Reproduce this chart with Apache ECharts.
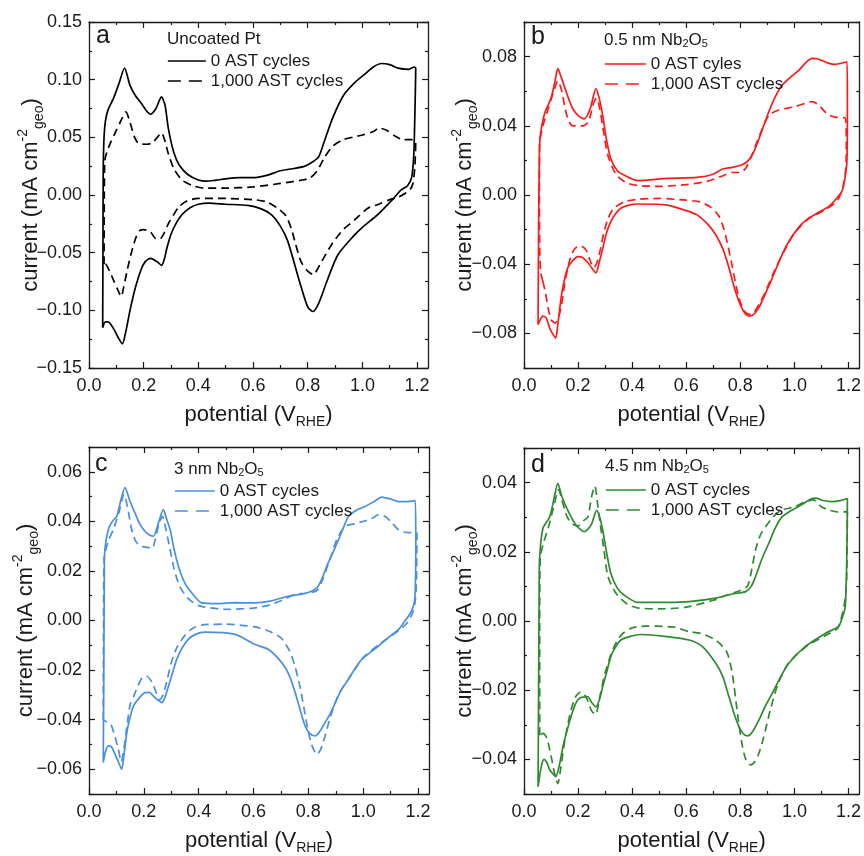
<!DOCTYPE html>
<html><head><meta charset="utf-8">
<script src="https://cdn.jsdelivr.net/npm/echarts@6/dist/echarts.min.js"></script>
<style>html,body{margin:0;padding:0;background:#fff}#c{width:864px;height:856px}</style>
</head><body><div id="c"></div>
<script>
// ---------- data ----------
const xMajor = [0, 0.2, 0.4, 0.6, 0.8, 1.0, 1.2];
const xMinor = [0.1, 0.3, 0.5, 0.7, 0.9, 1.1];
const X_MAX = 1.24;

const aYMajor = [-0.15, -0.10, -0.05, 0, 0.05, 0.10, 0.15];
const aYMinor = [-0.125, -0.075, -0.025, 0.025, 0.075, 0.125];
const bYMajor = [-0.08, -0.04, 0, 0.04, 0.08];
const bYMinor = [-0.10, -0.06, -0.02, 0.02, 0.06, 0.10];
const cYMajor = [-0.06, -0.04, -0.02, 0, 0.02, 0.04, 0.06];
const cYMinor = [-0.07, -0.05, -0.03, -0.01, 0.01, 0.03, 0.05, 0.07];
const dYMajor = [-0.04, -0.02, 0, 0.02, 0.04];
const dYMinor = [-0.05, -0.03, -0.01, 0.01, 0.03, 0.05];

const panelTitles = ['Uncoated Pt', '0.5 nm Nb{s|2}O{s|5}', '3 nm Nb{s|2}O{s|5}', '4.5 nm Nb{s|2}O{s|5}'];
const panelLetters = ['a', 'b', 'c', 'd'];
const freshLabels = ['0 AST cycles', '0 AST cyles', '0 AST cycles', '0 AST cycles'];
const agedLabel = '1,000 AST cycles';

const aFresh = [[0.05,-0.115],[0.051,-0.05],[0.052,0.02],[0.055,0.05],[0.06,0.064],[0.07,0.074],[0.09,0.084],[0.11,0.097],[0.13,0.110],[0.15,0.095],[0.17,0.086],[0.19,0.080],[0.21,0.073],[0.225,0.070],[0.245,0.075],[0.265,0.085],[0.278,0.078],[0.29,0.058],[0.31,0.037],[0.33,0.026],[0.36,0.018],[0.40,0.013],[0.43,0.012],[0.50,0.014],[0.55,0.015],[0.60,0.015],[0.65,0.017],[0.70,0.021],[0.75,0.023],[0.79,0.025],[0.82,0.029],[0.84,0.033],[0.86,0.046],[0.89,0.066],[0.93,0.086],[0.97,0.097],[1.01,0.105],[1.04,0.111],[1.07,0.114],[1.10,0.113],[1.13,0.110],[1.17,0.109],[1.19,0.111],[1.195,0.110],
  [1.192,0.07],[1.188,0.035],[1.18,0.015],[1.165,0.008],[1.14,0.004],[1.11,-0.004],[1.056,-0.017],[1.00,-0.028],[0.97,-0.035],[0.91,-0.052],[0.87,-0.075],[0.84,-0.094],[0.82,-0.101],[0.80,-0.097],[0.77,-0.075],[0.727,-0.040],[0.70,-0.027],[0.667,-0.017],[0.63,-0.012],[0.58,-0.009],[0.50,-0.008],[0.44,-0.007],[0.40,-0.008],[0.37,-0.011],[0.34,-0.017],[0.32,-0.024],[0.30,-0.034],[0.285,-0.046],[0.275,-0.056],[0.265,-0.061],[0.25,-0.058],[0.225,-0.055],[0.205,-0.058],[0.19,-0.065],[0.17,-0.080],[0.15,-0.100],[0.135,-0.118],[0.122,-0.129],[0.11,-0.125],[0.09,-0.116],[0.07,-0.110],[0.06,-0.110],[0.05,-0.115]];
const aAged = [[0.055,-0.060],[0.056,0.0],[0.058,0.030],[0.065,0.037],[0.08,0.046],[0.10,0.056],[0.12,0.066],[0.135,0.072],[0.15,0.063],[0.165,0.051],[0.18,0.045],[0.21,0.044],[0.23,0.045],[0.25,0.050],[0.265,0.054],[0.275,0.049],[0.29,0.036],[0.31,0.023],[0.34,0.013],[0.38,0.008],[0.42,0.006],[0.50,0.006],[0.60,0.007],[0.70,0.010],[0.78,0.013],[0.81,0.015],[0.835,0.021],[0.86,0.032],[0.89,0.042],[0.93,0.048],[1.00,0.052],[1.04,0.055],[1.06,0.058],[1.09,0.056],[1.12,0.051],[1.15,0.048],[1.18,0.048],[1.195,0.046],
  [1.192,0.025],[1.185,0.010],[1.175,0.005],[1.16,0.002],[1.13,-0.002],[1.10,-0.004],[1.06,-0.008],[1.02,-0.0115],[0.97,-0.022],[0.93,-0.030],[0.89,-0.042],[0.85,-0.058],[0.82,-0.069],[0.80,-0.066],[0.776,-0.058],[0.755,-0.042],[0.74,-0.029],[0.72,-0.018],[0.69,-0.0115],[0.65,-0.006],[0.60,-0.004],[0.50,-0.003],[0.40,-0.003],[0.36,-0.005],[0.33,-0.010],[0.31,-0.017],[0.29,-0.025],[0.275,-0.033],[0.26,-0.038],[0.245,-0.038],[0.225,-0.032],[0.20,-0.030],[0.185,-0.031],[0.17,-0.038],[0.155,-0.050],[0.14,-0.065],[0.125,-0.082],[0.118,-0.088],[0.105,-0.082],[0.09,-0.074],[0.075,-0.066],[0.06,-0.060],[0.055,-0.060]];

const bFresh = [[0.052,-0.075],[0.054,-0.02],[0.057,0.025],[0.061,0.035],[0.076,0.047],[0.10,0.056],[0.115,0.066],[0.125,0.073],[0.14,0.067],[0.162,0.057],[0.18,0.050],[0.20,0.046],[0.223,0.044],[0.245,0.050],[0.266,0.0615],[0.278,0.056],[0.291,0.046],[0.305,0.032],[0.321,0.021],[0.345,0.014],[0.37,0.0115],[0.42,0.0083],[0.53,0.0096],[0.64,0.0102],[0.70,0.012],[0.734,0.015],[0.77,0.016],[0.807,0.0175],[0.83,0.020],[0.85,0.025],[0.875,0.035],[0.905,0.048],[0.93,0.057],[0.954,0.0634],[0.985,0.068],[1.016,0.072],[1.045,0.077],[1.065,0.079],[1.09,0.0785],[1.12,0.0765],[1.145,0.0755],[1.17,0.076],[1.195,0.077],
  [1.196,0.05],[1.194,0.019],[1.185,0.008],[1.175,0.002],[1.15,-0.003],[1.126,-0.0067],[1.09,-0.010],[1.053,-0.0134],[1.02,-0.018],[0.979,-0.027],[0.95,-0.036],[0.918,-0.048],[0.89,-0.058],[0.869,-0.065],[0.85,-0.069],[0.832,-0.070],[0.815,-0.068],[0.795,-0.0615],[0.775,-0.052],[0.758,-0.042],[0.735,-0.031],[0.709,-0.023],[0.68,-0.017],[0.64,-0.0115],[0.60,-0.009],[0.53,-0.0058],[0.42,-0.0052],[0.385,-0.006],[0.358,-0.0077],[0.338,-0.011],[0.321,-0.0154],[0.305,-0.022],[0.291,-0.031],[0.278,-0.039],[0.266,-0.045],[0.25,-0.042],[0.236,-0.039],[0.215,-0.036],[0.199,-0.0356],[0.18,-0.038],[0.162,-0.042],[0.148,-0.050],[0.137,-0.0596],[0.125,-0.075],[0.117,-0.0827],[0.105,-0.080],[0.095,-0.077],[0.082,-0.071],[0.07,-0.070],[0.06,-0.072],[0.052,-0.075]];
const bAged = [[0.07,-0.050],[0.062,-0.045],[0.058,-0.030],[0.057,0.0],[0.058,0.030],[0.07,0.040],[0.09,0.050],[0.11,0.060],[0.125,0.066],[0.14,0.060],[0.152,0.050],[0.165,0.043],[0.18,0.040],[0.22,0.040],[0.24,0.043],[0.255,0.052],[0.268,0.056],[0.28,0.050],[0.295,0.036],[0.31,0.023],[0.34,0.012],[0.38,0.007],[0.42,0.0055],[0.50,0.005],[0.60,0.006],[0.68,0.008],[0.734,0.011],[0.77,0.013],[0.80,0.013],[0.82,0.0155],[0.84,0.022],[0.87,0.034],[0.905,0.046],[0.94,0.049],[1.0,0.051],[1.04,0.053],[1.065,0.054],[1.09,0.052],[1.12,0.047],[1.15,0.045],[1.188,0.0446],
  [1.192,0.03],[1.19,0.015],[1.18,0.005],[1.16,-0.003],[1.12,-0.008],[1.05,-0.014],[1.0,-0.022],[0.96,-0.033],[0.92,-0.046],[0.89,-0.057],[0.87,-0.063],[0.85,-0.068],[0.835,-0.069],[0.82,-0.068],[0.80,-0.062],[0.785,-0.053],[0.77,-0.041],[0.755,-0.030],[0.74,-0.020],[0.72,-0.012],[0.69,-0.007],[0.65,-0.004],[0.60,-0.003],[0.50,-0.002],[0.42,-0.0025],[0.37,-0.004],[0.33,-0.008],[0.31,-0.014],[0.295,-0.022],[0.283,-0.031],[0.27,-0.039],[0.258,-0.042],[0.245,-0.038],[0.23,-0.032],[0.21,-0.0295],[0.195,-0.030],[0.18,-0.033],[0.165,-0.040],[0.15,-0.052],[0.137,-0.065],[0.125,-0.072],[0.115,-0.074],[0.10,-0.072],[0.09,-0.066],[0.08,-0.057],[0.07,-0.050]];

const cFresh = [[0.052,-0.0573],[0.054,-0.02],[0.056,0.02],[0.058,0.0286],[0.07,0.0366],[0.085,0.040],[0.101,0.042],[0.115,0.048],[0.131,0.0536],[0.15,0.048],[0.168,0.0433],[0.185,0.039],[0.204,0.036],[0.22,0.0345],[0.235,0.034],[0.255,0.040],[0.271,0.0447],[0.283,0.041],[0.296,0.0366],[0.31,0.029],[0.326,0.0219],[0.35,0.015],[0.375,0.0111],[0.411,0.0071],[0.47,0.0068],[0.533,0.0072],[0.606,0.0071],[0.66,0.0078],[0.727,0.0098],[0.788,0.0109],[0.831,0.0132],[0.85,0.017],[0.867,0.0219],[0.89,0.0275],[0.91,0.0326],[0.93,0.038],[0.946,0.042],[0.975,0.0445],[1.007,0.046],[1.04,0.048],[1.068,0.0498],[1.10,0.049],[1.129,0.048],[1.16,0.048],[1.19,0.0484],
  [1.192,0.03],[1.188,0.0085],[1.177,0.004],[1.165,0.0017],[1.147,-0.001],[1.129,-0.0036],[1.09,-0.007],[1.056,-0.0103],[0.995,-0.0157],[0.97,-0.0195],[0.946,-0.0237],[0.92,-0.028],[0.898,-0.0331],[0.878,-0.038],[0.861,-0.0412],[0.84,-0.045],[0.825,-0.0466],[0.805,-0.0455],[0.788,-0.0425],[0.77,-0.036],[0.752,-0.0291],[0.73,-0.022],[0.703,-0.017],[0.655,-0.0117],[0.606,-0.0097],[0.533,-0.0056],[0.423,-0.0047],[0.39,-0.0055],[0.362,-0.0076],[0.34,-0.011],[0.32,-0.0157],[0.305,-0.021],[0.29,-0.0264],[0.277,-0.031],[0.265,-0.0331],[0.25,-0.032],[0.235,-0.0305],[0.22,-0.029],[0.204,-0.0291],[0.185,-0.031],[0.162,-0.0345],[0.15,-0.039],[0.138,-0.0452],[0.128,-0.054],[0.119,-0.060],[0.107,-0.057],[0.095,-0.054],[0.082,-0.051],[0.07,-0.0506],[0.06,-0.053],[0.052,-0.0573]];
const cAged = [[0.052,-0.040],[0.053,0.0],[0.055,0.025],[0.07,0.032],[0.09,0.037],[0.11,0.044],[0.128,0.051],[0.14,0.046],[0.155,0.037],[0.17,0.032],[0.19,0.030],[0.215,0.0295],[0.23,0.029],[0.24,0.032],[0.255,0.039],[0.268,0.042],[0.28,0.037],[0.295,0.029],[0.31,0.021],[0.33,0.014],[0.36,0.009],[0.40,0.006],[0.45,0.005],[0.50,0.0045],[0.60,0.005],[0.65,0.006],[0.70,0.008],[0.75,0.0105],[0.79,0.011],[0.83,0.012],[0.85,0.016],[0.87,0.022],[0.886,0.027],[0.905,0.033],[0.934,0.038],[0.97,0.039],[1.0,0.040],[1.03,0.041],[1.056,0.0427],[1.08,0.042],[1.10,0.040],[1.13,0.0365],[1.16,0.0355],[1.196,0.0353],
  [1.194,0.015],[1.19,0.008],[1.18,0.003],[1.16,-0.001],[1.13,-0.004],[1.06,-0.0095],[1.0,-0.015],[0.95,-0.023],[0.91,-0.030],[0.88,-0.039],[0.86,-0.047],[0.845,-0.052],[0.831,-0.054],[0.815,-0.051],[0.80,-0.045],[0.785,-0.036],[0.77,-0.027],[0.75,-0.018],[0.73,-0.012],[0.70,-0.007],[0.65,-0.004],[0.60,-0.0025],[0.50,-0.0015],[0.42,-0.0017],[0.38,-0.003],[0.35,-0.006],[0.32,-0.011],[0.30,-0.017],[0.285,-0.024],[0.27,-0.030],[0.258,-0.032],[0.245,-0.029],[0.23,-0.025],[0.21,-0.0225],[0.195,-0.023],[0.18,-0.026],[0.165,-0.030],[0.15,-0.034],[0.138,-0.043],[0.127,-0.052],[0.118,-0.057],[0.107,-0.052],[0.095,-0.047],[0.08,-0.042],[0.065,-0.041],[0.052,-0.040]];

const dFresh = [[0.052,-0.0479],[0.054,-0.02],[0.056,0.01],[0.058,0.0186],[0.07,0.0268],[0.095,0.0301],[0.11,0.035],[0.125,0.0398],[0.14,0.036],[0.162,0.032],[0.193,0.0277],[0.223,0.0258],[0.248,0.0277],[0.269,0.032],[0.28,0.030],[0.291,0.0263],[0.305,0.020],[0.321,0.0138],[0.345,0.0095],[0.37,0.0075],[0.42,0.0054],[0.53,0.0054],[0.611,0.0056],[0.709,0.0066],[0.77,0.0078],[0.82,0.0085],[0.84,0.010],[0.856,0.0128],[0.88,0.018],[0.905,0.0224],[0.93,0.027],[0.954,0.0301],[0.98,0.0315],[1.004,0.0326],[1.035,0.034],[1.065,0.0354],[1.08,0.0355],[1.102,0.0349],[1.138,0.0345],[1.17,0.0348],[1.196,0.0354],
  [1.194,0.02],[1.188,0.0041],[1.175,0.0005],[1.163,-0.0016],[1.114,-0.0036],[1.04,-0.0074],[0.979,-0.0122],[0.95,-0.016],[0.918,-0.0209],[0.89,-0.025],[0.869,-0.0286],[0.845,-0.032],[0.826,-0.0332],[0.81,-0.0325],[0.795,-0.0305],[0.778,-0.027],[0.758,-0.0219],[0.735,-0.016],[0.709,-0.0122],[0.66,-0.0074],[0.611,-0.0055],[0.53,-0.0045],[0.432,-0.0039],[0.39,-0.0045],[0.358,-0.0055],[0.335,-0.008],[0.321,-0.0103],[0.305,-0.015],[0.291,-0.019],[0.278,-0.023],[0.266,-0.0248],[0.25,-0.0235],[0.236,-0.0219],[0.22,-0.022],[0.205,-0.0223],[0.19,-0.024],[0.174,-0.0276],[0.158,-0.032],[0.144,-0.0363],[0.13,-0.042],[0.117,-0.045],[0.105,-0.044],[0.095,-0.043],[0.085,-0.041],[0.074,-0.040],[0.064,-0.042],[0.052,-0.0479]];
const dAged = [[0.058,-0.033],[0.058,0.0],[0.06,0.018],[0.07,0.022],[0.09,0.027],[0.11,0.033],[0.128,0.038],[0.14,0.035],[0.16,0.030],[0.18,0.028],[0.20,0.0275],[0.22,0.029],[0.236,0.030],[0.25,0.036],[0.262,0.039],[0.272,0.034],[0.282,0.028],[0.295,0.021],[0.31,0.013],[0.34,0.008],[0.38,0.005],[0.42,0.0038],[0.50,0.0035],[0.60,0.004],[0.70,0.006],[0.75,0.0075],[0.80,0.0088],[0.826,0.010],[0.84,0.014],[0.856,0.0205],[0.875,0.025],[0.893,0.0272],[0.92,0.030],[0.95,0.032],[1.0,0.033],[1.04,0.0345],[1.07,0.035],[1.10,0.033],[1.13,0.032],[1.16,0.0315],[1.196,0.0316],
  [1.194,0.015],[1.19,0.008],[1.18,0.003],[1.16,-0.002],[1.12,-0.004],[1.05,-0.007],[0.98,-0.012],[0.94,-0.018],[0.91,-0.026],[0.885,-0.034],[0.865,-0.039],[0.85,-0.041],[0.838,-0.0416],[0.82,-0.040],[0.805,-0.035],[0.79,-0.027],[0.77,-0.0151],[0.75,-0.009],[0.709,-0.0055],[0.65,-0.0035],[0.611,-0.0031],[0.55,-0.0017],[0.45,-0.0015],[0.40,-0.002],[0.36,-0.004],[0.33,-0.008],[0.30,-0.015],[0.28,-0.022],[0.265,-0.027],[0.25,-0.026],[0.23,-0.022],[0.21,-0.0205],[0.19,-0.022],[0.17,-0.027],[0.15,-0.035],[0.135,-0.043],[0.125,-0.047],[0.113,-0.044],[0.10,-0.039],[0.085,-0.034],[0.07,-0.0325],[0.058,-0.033]];

// ---------- layout / style ----------
const FONT = '"Liberation Sans", Arial, Helvetica, sans-serif';
const INK = '#1a1a1a';
const panels = [
  {grid:{left:89, top:22, width:339, height:346}, y:[-0.15,0.15], maj:aYMajor, min:aYMinor, color:'#000000', fresh:aFresh, aged:aAged, yGap:43,
   title:{x:167,y:31}, legend:{x:167,y:51,w:38}, letter:{x:96,y:24}},
  {grid:{left:524, top:22, width:337, height:346}, y:[-0.10,0.10], maj:bYMajor, min:bYMinor, color:'#ff1a1a', fresh:bFresh, aged:bAged, yGap:44,
   title:{x:604,y:32}, legend:{x:604,y:54,w:41}, letter:{x:531,y:25}},
  {grid:{left:89, top:447, width:340, height:349}, y:[-0.07,0.07], maj:cYMajor, min:cYMinor, color:'#4a8fe0', fresh:cFresh, aged:cAged, yGap:48,
   title:{x:174,y:461}, legend:{x:174,y:481,w:40}, letter:{x:95,y:452}},
  {grid:{left:524, top:448, width:337, height:348}, y:[-0.05,0.05], maj:dYMajor, min:dYMinor, color:'#2f8a2f', fresh:dFresh, aged:dAged, yGap:44,
   title:{x:605,y:458}, legend:{x:605,y:480,w:40}, letter:{x:531,y:453}}
];

function fmtY(v){ return (v < -1e-9 ? '\u2212' : '') + Math.abs(v).toFixed(2); }
function fmtX(v){ return v.toFixed(1); }

const tickLine = {color: INK, width: 1.2};
const grids = [], xAxes = [], yAxes = [], series = [], legends = [], graphics = [];
const LABELS = {};

panels.forEach((p, i) => {
  grids.push(Object.assign({containLabel:false}, p.grid));
  const xb = {gridIndex:i, type:'value', min:0, max:X_MAX, splitLine:{show:false}};
  const xLine = {show:true, onZero:false, lineStyle:{color:INK, width:1.3}};
  const noLine = {show:false, onZero:false};
  xAxes.push(Object.assign({}, xb, {position:'bottom', axisLine:xLine,
    axisTick:{inside:true, length:6, customValues:xMajor, lineStyle:tickLine},
    axisLabel:{customValues:xMajor, formatter:fmtX, fontSize:18, color:INK, margin:9, fontFamily:FONT},
    name:'{n|potential (V}{sub|RHE}{n|)}', nameLocation:'middle', nameGap:33, nameMoveOverlap:false,
    nameTextStyle:{fontFamily:FONT, color:INK, rich:{n:{fontSize:22, lineHeight:28, fontFamily:FONT, color:INK}, sub:{fontSize:14, lineHeight:14, verticalAlign:'bottom', fontFamily:FONT, color:INK}}}}));
  xAxes.push(Object.assign({}, xb, {position:'bottom', axisLine:noLine, axisTick:{inside:true, length:3, customValues:xMinor, lineStyle:tickLine}, axisLabel:{show:false}}));
  xAxes.push(Object.assign({}, xb, {position:'top', axisLine:xLine, axisTick:{inside:true, length:6, customValues:xMajor, lineStyle:tickLine}, axisLabel:{show:false}}));
  xAxes.push(Object.assign({}, xb, {position:'top', axisLine:noLine, axisTick:{inside:true, length:3, customValues:xMinor, lineStyle:tickLine}, axisLabel:{show:false}}));

  const yb = {gridIndex:i, type:'value', min:p.y[0], max:p.y[1], splitLine:{show:false}};
  yAxes.push(Object.assign({}, yb, {position:'left', axisLine:xLine,
    axisTick:{inside:true, length:6, customValues:p.maj, lineStyle:tickLine},
    axisLabel:{customValues:p.maj, formatter:fmtY, fontSize:18, color:INK, margin:7, fontFamily:FONT},
    name:'{n|current (mA cm}{sup|-2}{sub|geo}{n|)}', nameLocation:'middle', nameGap:p.yGap, nameRotate:90, nameMoveOverlap:false,
    nameTextStyle:{fontFamily:FONT, color:INK, rich:{n:{fontSize:22, lineHeight:30, fontFamily:FONT, color:INK}, sup:{fontSize:14, lineHeight:16, verticalAlign:'top', fontFamily:FONT, color:INK}, sub:{fontSize:14, lineHeight:16, verticalAlign:'bottom', fontFamily:FONT, color:INK}}}}));
  yAxes.push(Object.assign({}, yb, {position:'left', axisLine:noLine, axisTick:{inside:true, length:3, customValues:p.min, lineStyle:tickLine}, axisLabel:{show:false}}));
  yAxes.push(Object.assign({}, yb, {position:'right', axisLine:xLine, axisTick:{inside:true, length:6, customValues:p.maj, lineStyle:tickLine}, axisLabel:{show:false}}));
  yAxes.push(Object.assign({}, yb, {position:'right', axisLine:noLine, axisTick:{inside:true, length:3, customValues:p.min, lineStyle:tickLine}, axisLabel:{show:false}}));

  const n0 = 's' + i + 'f', n1 = 's' + i + 'a';
  LABELS[n0] = freshLabels[i]; LABELS[n1] = agedLabel;
  series.push({name:n0, type:'line', xAxisIndex:4*i, yAxisIndex:4*i, data:p.fresh, symbol:'none', smooth:0.25,
    lineStyle:{color:p.color, width:1.7, type:'solid'}, itemStyle:{color:p.color}, z:3});
  series.push({name:n1, type:'line', xAxisIndex:4*i, yAxisIndex:4*i, data:p.aged, symbol:'none', smooth:0.25,
    lineStyle:{color:p.color, width:1.7, type:[8,5]}, itemStyle:{color:p.color}, z:2});

  legends.push({data:[
      {name:n0, lineStyle:{color:p.color, width:1.7, type:'solid'}},
      {name:n1, lineStyle:{color:p.color, width:1.7, type:[13,8]}}],
    left:p.legend.x, top:p.legend.y, orient:'vertical', padding:0, itemGap:0,
    itemWidth:p.legend.w, itemHeight:14, selectedMode:false, formatter:(n) => LABELS[n],
    itemStyle:{opacity:0, borderWidth:0},
    textStyle:{fontSize:17, color:INK, fontFamily:FONT, lineHeight:20}});

  graphics.push({type:'text', left:p.title.x, top:p.title.y, style:{text:panelTitles[i], fill:INK, font:'17px ' + FONT,
    rich:{s:{fontSize:11, lineHeight:11, verticalAlign:'bottom', fontFamily:FONT, fill:INK}}}});
  graphics.push({type:'text', left:p.letter.x, top:p.letter.y, style:{text:panelLetters[i], fill:INK, font:'25px ' + FONT}});
});

const chart = echarts.init(document.getElementById('c'), null, {renderer:'canvas'});
chart.setOption({
  animation:false,
  backgroundColor:'#ffffff',
  grid:grids, xAxis:xAxes, yAxis:yAxes, series:series, legend:legends, graphic:graphics
});
</script></body></html>
